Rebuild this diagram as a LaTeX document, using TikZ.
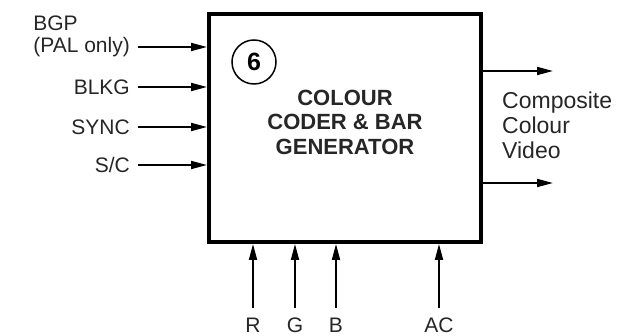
\documentclass[tikz,border=0pt]{standalone}
\usepackage{fontspec}
\setmainfont{Liberation Sans}
\usetikzlibrary{arrows.meta}

\definecolor{inkgray}{HTML}{262626}

\tikzset{
  sig/.style={line width=1.8pt, -{Triangle[length=16pt,width=8pt]}},
  lbl/.style={text=inkgray, font=\fontsize{21}{25}\selectfont, inner sep=2pt},
}

\begin{document}
\begin{tikzpicture}[x=1pt,y=-1pt]
    \useasboundingbox (0,0) rectangle (627,336);

    % The main block
    \node[draw, line width=4pt, minimum width=272pt, minimum height=228pt] (coder) at (345,128) {};

    % Block number and title
    \node[draw, circle, line width=1.5pt, minimum size=44pt, inner sep=0pt,
          font=\fontsize{25}{25}\selectfont\bfseries] (num) at (254,62) {6};
    \node[text=inkgray, align=center, font=\fontsize{22}{24.5}\selectfont\bfseries]
        (title) at (345,122) {COLOUR\\CODER \& BAR\\GENERATOR};

    % Inputs on the left
    \node[lbl, anchor=east] (pal) at (132,47) {(PAL only)};
    \node[lbl, anchor=west, yshift=24pt] (bgp) at (pal.west) {BGP};
    \draw[sig, shorten <=6pt] (pal.east) -- (pal.east -| coder.west);
    \foreach \n/\txt/\y in {blkg/BLKG/87, sync/SYNC/127, sc/{S/C}/165} {
        \node[lbl, anchor=east] (\n) at (132,\y) {\txt};
        \draw[sig, shorten <=6pt] (\n.east) -- (\n.east -| coder.west);
    }

    % Inputs from below
    \foreach \n/\x in {R/253, G/295, B/336, AC/439} {
        \node[lbl, anchor=base] (in\n) at (\x,333) {\n};
        \draw[sig, shorten <=8pt] (in\n.north) -- (in\n.north |- coder.south);
    }

    % Outputs on the right
    \coordinate (out1) at (553,71);
    \coordinate (out2) at (553,183);
    \draw[sig] (out1 -| coder.east) -- (out1);
    \draw[sig] (out2 -| coder.east) -- (out2);
    \node[lbl, anchor=west, align=left, font=\fontsize{23}{25}\selectfont]
        (video) at (500,125) {Composite\\Colour\\Video};

\end{tikzpicture}
\end{document}
